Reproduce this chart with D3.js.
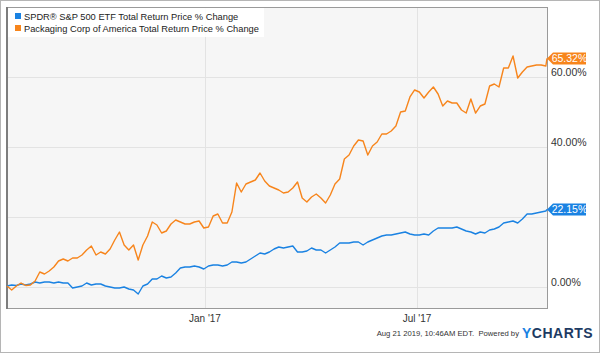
<!DOCTYPE html>
<html>
<head>
<meta charset="utf-8">
<script src="https://cdn.jsdelivr.net/npm/d3@7"></script>
<style>
  html, body { margin: 0; padding: 0; background: #fff; }
  svg { display: block; font-family: "Liberation Sans", Arial, sans-serif; }
</style>
</head>
<body>
<svg id="chart" width="600" height="353"></svg>
<script>
// dates sampled every 4 days, Jul 16 2016 -> Oct 20 2017
const dates = [
  '2016-07-16', '2016-07-20', '2016-07-24', '2016-07-28', '2016-08-01', '2016-08-05', '2016-08-09', '2016-08-13',
  '2016-08-17', '2016-08-21', '2016-08-25', '2016-08-29', '2016-09-02', '2016-09-06', '2016-09-10', '2016-09-14',
  '2016-09-18', '2016-09-22', '2016-09-26', '2016-09-30', '2016-10-04', '2016-10-08', '2016-10-12', '2016-10-16',
  '2016-10-20', '2016-10-24', '2016-10-28', '2016-11-01', '2016-11-05', '2016-11-09', '2016-11-13', '2016-11-17',
  '2016-11-21', '2016-11-25', '2016-11-29', '2016-12-03', '2016-12-07', '2016-12-11', '2016-12-15', '2016-12-19',
  '2016-12-23', '2016-12-27', '2016-12-31', '2017-01-04', '2017-01-08', '2017-01-12', '2017-01-16', '2017-01-20',
  '2017-01-24', '2017-01-28', '2017-02-01', '2017-02-05', '2017-02-09', '2017-02-13', '2017-02-17', '2017-02-21',
  '2017-02-25', '2017-03-01', '2017-03-05', '2017-03-09', '2017-03-13', '2017-03-17', '2017-03-21', '2017-03-25',
  '2017-03-29', '2017-04-02', '2017-04-06', '2017-04-10', '2017-04-14', '2017-04-18', '2017-04-22', '2017-04-26',
  '2017-04-30', '2017-05-04', '2017-05-08', '2017-05-12', '2017-05-16', '2017-05-20', '2017-05-24', '2017-05-28',
  '2017-06-01', '2017-06-05', '2017-06-09', '2017-06-13', '2017-06-17', '2017-06-21', '2017-06-25', '2017-06-29',
  '2017-07-03', '2017-07-07', '2017-07-11', '2017-07-15', '2017-07-19', '2017-07-23', '2017-07-27', '2017-07-31',
  '2017-08-04', '2017-08-08', '2017-08-12', '2017-08-16', '2017-08-20', '2017-08-24', '2017-08-28', '2017-09-01',
  '2017-09-05', '2017-09-09', '2017-09-13', '2017-09-17', '2017-09-21', '2017-09-25', '2017-09-29', '2017-10-03',
  '2017-10-07', '2017-10-11', '2017-10-15', '2017-10-19', '2017-10-20'
]

// SPDR S&P 500 ETF total return, % change
const spyValues = [
  0.29, 0.57, 0.43, 0.86, 0.57, 0.86, 1.43, 1.14, 1.43, 1.43, 1.14, 1.43, 1.14, 1.14, -0.29, 0.0,
  0.29, 1.14, 0.57, 0.86, 0.86, 0.29, 0.0, -0.29, -0.29, 0.0, -0.57, -0.86, -2.0, 0.29, 0.86, 2.29,
  2.29, 3.14, 2.57, 2.86, 4.0, 5.43, 5.71, 5.71, 6.0, 5.71, 5.14, 6.0, 6.29, 6.29, 6.0, 6.29,
  7.14, 7.14, 6.86, 7.14, 8.0, 8.86, 9.71, 9.43, 10.0, 10.86, 11.43, 11.14, 11.43, 11.71, 10.0, 10.0,
  10.29, 11.14, 10.57, 10.57, 9.71, 10.57, 11.43, 12.57, 12.57, 12.57, 12.86, 12.86, 12.0, 12.86, 13.43, 14.0,
  14.57, 14.86, 14.86, 15.14, 15.43, 15.71, 15.14, 14.86, 14.86, 15.14, 14.86, 16.0, 16.86, 16.86, 16.86, 16.86,
  17.14, 16.57, 16.0, 15.71, 15.14, 15.71, 15.43, 16.29, 16.57, 17.14, 18.29, 18.57, 18.86, 18.29, 19.43, 20.86,
  20.86, 21.14, 21.43, 21.71, 22.15
]

// Packaging Corp of America total return, % change
const pkgValues = [
  0.29, -0.86, 0.29, 1.14, 0.43, 0.57, 1.71, 4.29, 3.71, 4.57, 5.71, 7.43, 8.0, 7.43, 8.29, 8.29,
  9.14, 10.57, 11.71, 9.14, 10.0, 9.43, 10.86, 13.43, 15.71, 12.0, 10.57, 12.0, 7.71, 12.0, 14.57, 18.57,
  17.71, 15.43, 16.0, 18.0, 19.14, 18.57, 18.0, 18.0, 18.57, 18.86, 16.86, 17.14, 20.29, 20.86, 18.29, 18.29,
  21.43, 29.71, 27.14, 29.43, 30.0, 30.57, 32.57, 30.29, 28.86, 28.29, 27.71, 26.86, 27.14, 28.29, 30.0, 25.43,
  24.29, 25.71, 26.57, 25.43, 24.0, 26.29, 29.43, 30.86, 36.57, 37.71, 40.29, 42.0, 41.71, 37.71, 40.29, 41.43,
  43.71, 43.71, 44.57, 46.0, 50.0, 50.29, 54.29, 56.29, 55.71, 54.0, 55.71, 57.14, 55.14, 51.71, 53.14, 52.57,
  52.57, 50.57, 49.71, 53.71, 49.71, 51.71, 52.29, 57.43, 58.0, 57.14, 62.57, 62.57, 66.0, 59.71, 61.43, 62.86,
  63.14, 63.43, 63.43, 63.14, 65.32
]

const seriesNames = [
  'SPDR® S&P 500 ETF Total Return Price % Change',
  'Packaging Corp of America Total Return Price % Change'
]
const seriesColors = ['#1a82e2', '#f7851c']
const yGrid = [0, 20, 40, 60]
// the 20% label sits under the S&P end tag in the original, so it is not drawn
const yLabels = [0, 40, 60]
const xTicks = ['2017-01-01', '2017-07-01']
const xTickLabels = ["Jan '17", "Jul '17"]
const stampText = 'Aug 21 2019, 10:46AM EDT.  Powered by'

const width = 600
const height = 353
const plot = { left: 7, top: 7, right: 547, bottom: 308 }

const parse = d3.utcParse('%Y-%m-%d')
const series = [spyValues, pkgValues].map((vals, i) => ({
  name: seriesNames[i],
  color: seriesColors[i],
  points: vals.map((v, j) => [parse(dates[j]), v]),
}))

const x = d3
  .scaleUtc()
  .domain([parse('2016-07-16'), parse('2017-10-20')])
  .range([plot.left, plot.right])
const y = d3.scaleLinear().domain([-6, 80]).range([plot.bottom, plot.top])

const svg = d3.select('#chart')

// outer frame
svg
  .append('rect')
  .attr('x', 0.5)
  .attr('y', 0.5)
  .attr('width', width - 1)
  .attr('height', height - 1)
  .attr('fill', '#fff')
  .attr('stroke', '#b5b5b5')

// plot background
svg
  .append('rect')
  .attr('x', plot.left)
  .attr('y', plot.top)
  .attr('width', plot.right - plot.left)
  .attr('height', plot.bottom - plot.top)
  .attr('fill', '#f6f6f6')

// grid
const grid = svg.append('g').attr('stroke', '#e3e3e3').attr('stroke-width', 1)
grid
  .selectAll('line.h')
  .data(yGrid)
  .join('line')
  .attr('x1', plot.left)
  .attr('x2', plot.right)
  .attr('y1', (d) => Math.round(y(d)) + 0.5)
  .attr('y2', (d) => Math.round(y(d)) + 0.5)
grid
  .selectAll('line.v')
  .data(xTicks)
  .join('line')
  .attr('x1', (d) => Math.round(x(parse(d))) + 0.5)
  .attr('x2', (d) => Math.round(x(parse(d))) + 0.5)
  .attr('y1', plot.top)
  .attr('y2', plot.bottom)

// plot frame
svg
  .append('rect')
  .attr('x', plot.left + 0.5)
  .attr('y', plot.top + 0.5)
  .attr('width', plot.right - plot.left)
  .attr('height', plot.bottom - plot.top)
  .attr('fill', 'none')
  .attr('stroke', '#9a9a9a')
svg
  .append('line')
  .attr('x1', plot.left)
  .attr('x2', plot.left)
  .attr('y1', plot.top)
  .attr('y2', plot.bottom + 1)
  .attr('stroke', '#7d7d7d')
  .attr('stroke-width', 2)

// lines
const line = d3
  .line()
  .x((d) => x(d[0]))
  .y((d) => y(d[1]))

svg
  .append('g')
  .attr('fill', 'none')
  .selectAll('path')
  .data(series)
  .join('path')
  .attr('d', (d) => line(d.points))
  .attr('stroke', (d) => d.color)
  .attr('stroke-width', 1.4)
  .attr('stroke-linejoin', 'round')

// y labels
svg
  .append('g')
  .selectAll('text')
  .data(yLabels)
  .join('text')
  .attr('x', 551)
  .attr('y', (d) => y(d) - 1.5)
  .attr('font-size', 10.5)
  .attr('fill', '#333')
  .text((d) => d3.format('.2f')(d) + '%')

// x labels
svg
  .append('g')
  .selectAll('text')
  .data(xTicks)
  .join('text')
  .attr('x', (d) => x(parse(d)))
  .attr('y', 322)
  .attr('text-anchor', 'middle')
  .attr('font-size', 10)
  .attr('fill', '#333')
  .text((d, i) => xTickLabels[i])

// end value tags
const tags = svg
  .append('g')
  .selectAll('g')
  .data(series)
  .join('g')
  .attr('transform', (d) => {
    const last = d.points[d.points.length - 1]
    return `translate(${x(last[0])},${y(last[1])})`
  })
tags
  .append('path')
  .attr('d', 'M0,0 L6,-6 L39,-6 L39,6 L6,6 Z')
  .attr('fill', (d) => d.color)
tags
  .append('text')
  .attr('x', 22.5)
  .attr('y', 3.8)
  .attr('text-anchor', 'middle')
  .attr('font-size', 10.5)
  .attr('fill', '#fff')
  .text((d) => d3.format('.2f')(d.points[d.points.length - 1][1]) + '%')

// legend
const legendLayer = svg.append('g').attr('id', 'legend')
legendLayer
  .append('rect')
  .attr('x', plot.left + 1)
  .attr('y', plot.top + 1)
  .attr('width', 256)
  .attr('height', 29)
  .attr('fill', '#fff')
  .attr('fill-opacity', 0.92)
const legendItems = legendLayer
  .selectAll('g')
  .data(series)
  .join('g')
  .attr('transform', (d, i) => `translate(15,${13 + i * 12})`)
legendItems
  .append('rect')
  .attr('width', 6)
  .attr('height', 6)
  .attr('fill', (d) => d.color)
legendItems
  .append('text')
  .attr('x', 9)
  .attr('y', 6.5)
  .attr('font-size', 9.3)
  .attr('fill', '#222')
  .text((d) => d.name)

// footer
svg
  .append('text')
  .attr('x', 519)
  .attr('y', 336)
  .attr('text-anchor', 'end')
  .attr('font-size', 7.7)
  .attr('fill', '#333')
  .attr('xml:space', 'preserve')
  .text(stampText)
const logo = svg
  .append('text')
  .attr('x', 522)
  .attr('y', 338)
  .attr('font-size', 14)
  .attr('font-weight', 'bold')
  .attr('letter-spacing', 0.5)
logo.append('tspan').attr('fill', '#1a82e2').text('Y')
logo.append('tspan').attr('fill', '#1d3b63').text('CHARTS')
</script>
</body>
</html>
